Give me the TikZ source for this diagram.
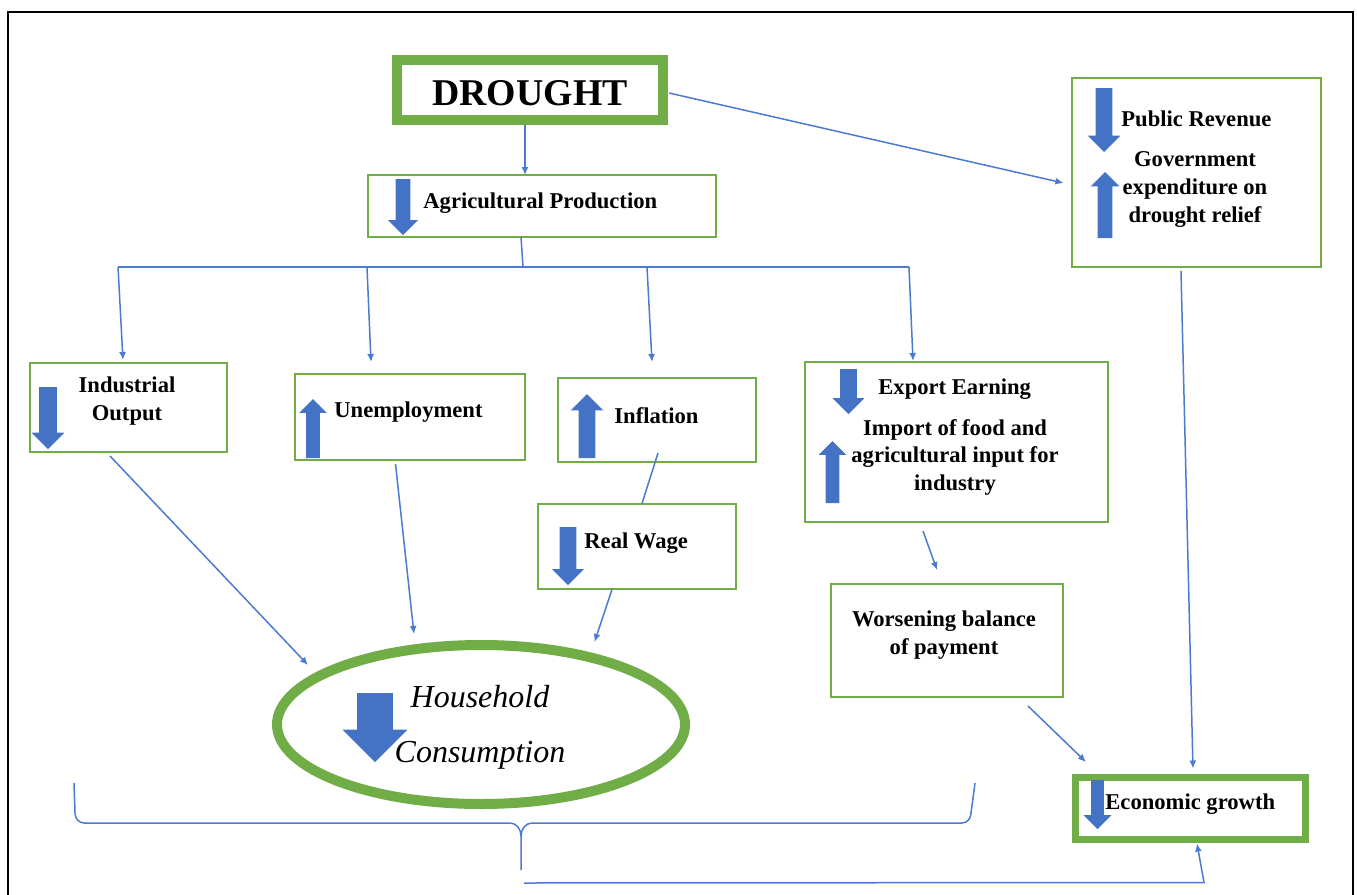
\documentclass[tikz,border=0pt]{standalone}
\usepackage{fontspec}
\setmainfont{Liberation Serif}
\usetikzlibrary{arrows.meta,calc,shapes.geometric,shapes.arrows}
\definecolor{boxgreen}{HTML}{70AD47}
\definecolor{iconblue}{HTML}{4472C4}
\definecolor{linkblue}{HTML}{4A7BD0}
\tikzset{
  greenbox/.style={draw=boxgreen, line width=1pt, inner sep=0pt, outer sep=0pt},
  thickbox/.style={greenbox, line width=5pt},
  conn/.style={draw=linkblue, line width=0.75pt, -{Latex[length=4pt,width=3.5pt]}},
  link/.style={draw=linkblue, line width=0.75pt},
  boxtxt/.style={font=\fontsize{11.3}{13.75}\selectfont\bfseries, inner sep=0pt},
  icon/.style={single arrow, fill=iconblue, inner xsep=0pt, inner ysep=4pt, outer sep=0pt,
    single arrow tip angle=90, single arrow head extend=3.75pt, anchor=tail},
  downicon/.style={icon, rotate=-90},
  upicon/.style={icon, rotate=90}
}
\begin{document}
\begin{tikzpicture}[x=0.5pt,y=-0.5pt]
\useasboundingbox (0,0) rectangle (1357,895);
\draw[line width=0.75pt] (8,895) -- (8,12) -- (1353,12) -- (1353,895);

% boxes
\node[thickbox, minimum width=133pt, minimum height=30pt] (drought) at (530,90) {};
\node[greenbox, minimum width=174pt, minimum height=31pt] (agri) at (542,206) {};
\node[greenbox, minimum width=124.5pt, minimum height=94.5pt] (gov) at (1196.5,172.5) {};
\node[greenbox, minimum width=98.5pt, minimum height=44.5pt] (indout) at (128.5,407.5) {};
\node[greenbox, minimum width=115pt, minimum height=43pt] (unemp) at (410,417) {};
\node[greenbox, minimum width=99pt, minimum height=42pt] (infl) at (657,420) {};
\node[greenbox, minimum width=151.5pt, minimum height=80pt] (export) at (956.5,442) {};
\node[greenbox, minimum width=99pt, minimum height=42.5pt] (realw) at (637,546) {};
\node[greenbox, minimum width=116pt, minimum height=56.5pt] (worse) at (947,640.5) {};
\node[greenbox, line width=3.5pt, minimum width=115pt, minimum height=31pt] (econ) at (1190.5,808.5) {};
\node[greenbox, ellipse, line width=5pt, minimum width=204pt, minimum height=79.5pt] (house) at (481,724.5) {};

% icons
\node[downicon, minimum height=28pt, inner ysep=3.5pt] (i-agri) at (403,179) {};
\node[downicon, minimum height=32pt, single arrow head extend=4pt] (i-pubrev) at (1104,88) {};
\node[upicon, minimum height=33pt, inner ysep=3.5pt, single arrow head extend=3.5pt] (i-govexp) at (1105,238) {};
\node[downicon, minimum height=31pt, inner ysep=4.25pt] (i-indout) at (48,387) {};
\node[upicon, minimum height=29.5pt, inner ysep=3.25pt, single arrow head extend=3.5pt] (i-unemp) at (313,458) {};
\node[upicon, minimum height=32pt, single arrow head extend=4pt] (i-infl) at (587,458) {};
\node[downicon, minimum height=29pt] (i-realw) at (568,527) {};
\node[downicon, minimum height=22.5pt] (i-export) at (848.5,369) {};
\node[upicon, minimum height=31pt, inner ysep=3.25pt, single arrow head extend=3.5pt] (i-import) at (832.5,503) {};
\node[downicon, minimum height=24.5pt, inner ysep=3pt] (i-econ) at (1097.5,780) {};
\node[downicon, minimum height=34.5pt, inner ysep=8.75pt, single arrow head extend=7.25pt] (i-house) at (375,693) {};

% texts
\node[boxtxt, font=\fontsize{18.9}{22}\selectfont\bfseries, anchor=base] (t-drought) at (530,105) {DROUGHT};
\node[boxtxt, anchor=base west] (t-agri) at (423,208) {Agricultural Production};
\node[boxtxt, anchor=base west] (t-pubrev) at (1121,126) {Public Revenue};
\node[boxtxt, align=center, anchor=base, font=\fontsize{11.3}{14}\selectfont\bfseries] (t-govexp) at (1195,222) {Government\\expenditure on\\drought relief};
\node[boxtxt, align=center, anchor=base] (t-indout) at (127,420) {Industrial\\Output};
\node[boxtxt, anchor=base west] (t-unemp) at (334,417) {Unemployment};
\node[boxtxt, anchor=base west] (t-infl) at (614,423) {Inflation};
\node[boxtxt, anchor=base west] (t-export) at (878,394) {Export Earning};
\node[boxtxt, align=center, anchor=base] (t-import) at (955,490) {Import of food and\\agricultural input for\\industry};
\node[boxtxt, anchor=base west] (t-realw) at (584,548) {Real Wage};
\node[boxtxt, align=center, anchor=base] (t-worse) at (944,654) {Worsening balance\\of payment};
\node[boxtxt, anchor=base west] (t-econ) at (1105,809) {Economic growth};
\node[inner sep=0pt, align=center, anchor=base, font=\fontsize{16}{27.5}\selectfont\itshape] (t-house) at (480,762) {Household\\Consumption};

% connectors
\coordinate (split) at (523,267);
\draw[conn] ($(drought.south)+(-5,5)$) -- ($(agri.north)+(-17,0)$);
\draw[conn] ($(drought.east)+(6,3)$) -- ($(gov.west)+(-8.5,10.5)$);
\draw[link] ($(agri.south)+(-21,0)$) -- (split);
\draw[link] ($(split -| indout.north)+(-10.5,0)$) -- ($(split -| export.north)+(-47.5,0)$);
\draw[conn] ($(split -| indout.north)+(-10.5,0)$) -- ($(indout.north)+(-5.5,-3)$);
\draw[conn] ($(split -| unemp.north)+(-43,0)$) -- ($(unemp.north)+(-39,-12)$);
\draw[conn] ($(split -| infl.north)+(-10,0)$) -- ($(infl.north)+(-5,-16)$);
\draw[conn] ($(split -| export.north)+(-47.5,0)$) -- ($(export.north)+(-43.5,-1)$);
\draw[conn] ($(gov.south)+(-15.5,4)$) -- ($(econ.north)+(2.5,-9)$);
\draw[conn] ($(indout.south)+(-18.5,4)$) -- ($(house.center)+(-173,-59.5)$);
\draw[conn] ($(unemp.south)+(-14.5,4)$) -- ($(house.center)+(-67,-90.5)$);
\draw[link] ($(infl.south)+(1,-9)$) -- ($(realw.north)+(5,0)$);
\draw[conn] ($(realw.south)+(-25,1)$) -- ($(house.center)+(113.5,-82.5)$);
\draw[conn] ($(export.south)+(-33.5,9)$) -- ($(worse.north)+(-10,-14)$);
\draw[conn] ($(worse.south)+(81,9)$) -- ($(econ.north west)+(10.5,-15.5)$);

% brace
\coordinate (bracetip) at (521,870);
\draw[link] (74,783) -- (75,813) to[out=-90,in=180] (84,823) -- (510,823) to[out=0,in=90] ($(bracetip)+(0,-34)$) -- (bracetip);
\draw[link] ($(bracetip)+(0,-34)$) to[out=90,in=180] (532,823) -- (962,823) to[out=0,in=-90] (971,813) -- (975,783);
\draw[conn] ($(bracetip)+(3,13)$) -- ($(econ.south)+(13.5,43)$) -- ($(econ.south)+(6.5,4)$);
\end{tikzpicture}
\end{document}
